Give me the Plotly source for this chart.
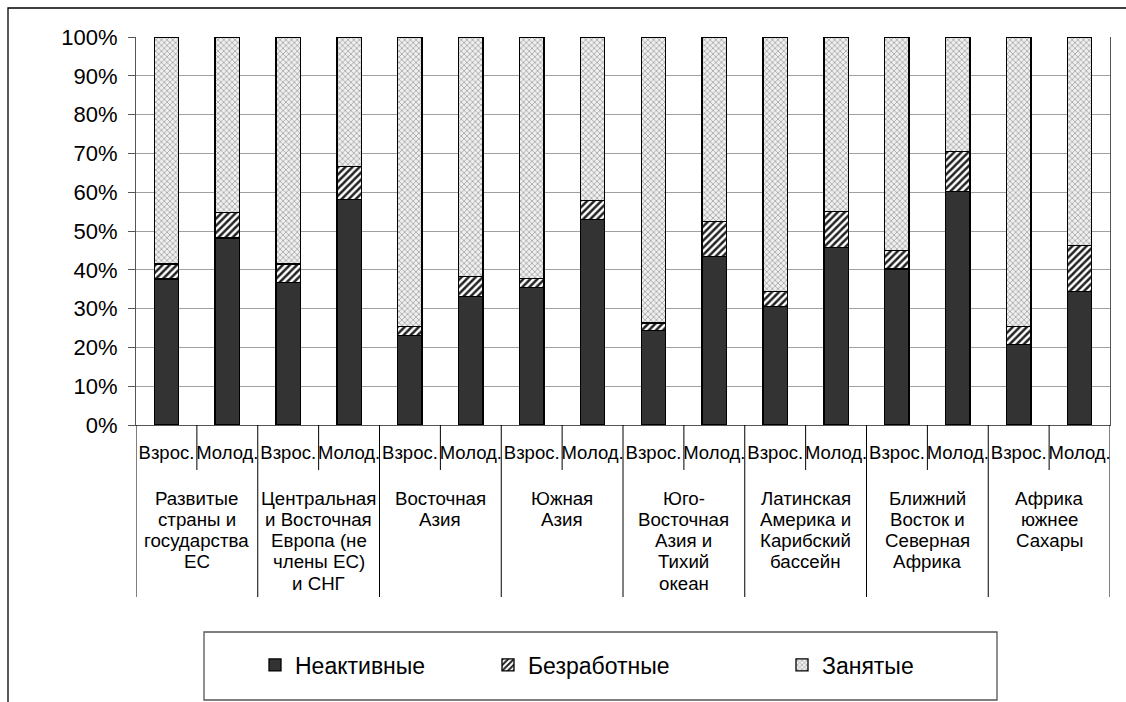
import plotly.graph_objects as go

regions = [
    "Развитые\nстраны и\nгосударства\nЕС",
    "Центральная\nи Восточная\nЕвропа (не\nчлены ЕС)\nи СНГ",
    "Восточная\nАзия",
    "Южная\nАзия",
    "Юго-\nВосточная\nАзия и\nТихий\nокеан",
    "Латинская\nАмерика и\nКарибский\nбассейн",
    "Ближний\nВосток и\nСеверная\nАфрика",
    "Африка\nюжнее\nСахары",
]
ages = ["Взрос.", "Молод."]

inactive = [37.6, 48.2, 36.8, 58.2, 23.0, 33.1, 35.4, 52.9,
            24.3, 43.5, 30.6, 45.8, 40.2, 60.2, 20.7, 34.4]
unemployed = [3.9, 6.6, 4.7, 8.5, 2.4, 5.2, 2.4, 4.9,
              2.0, 9.0, 3.8, 9.2, 4.7, 10.3, 4.7, 11.8]
employed = [58.5, 45.2, 58.5, 33.3, 74.6, 61.7, 62.2, 42.2,
            73.7, 47.5, 65.6, 45.0, 55.1, 29.5, 74.6, 53.8]

series_names = ["Неактивные", "Безработные", "Занятые"]
y_tickvals = [0, 10, 20, 30, 40, 50, 60, 70, 80, 90, 100]
y_ticktext = ["0%", "10%", "20%", "30%", "40%", "50%", "60%", "70%", "80%", "90%", "100%"]

n = len(regions) * len(ages)
xs = list(range(n))
ticktext = [ages[i % 2] for i in xs]

FONT = "Liberation Sans, Arial, sans-serif"
line = dict(color="#000000", width=1.3)

fig = go.Figure()
fig.add_trace(go.Bar(x=xs, y=inactive, name=series_names[0], legend="legend",
                     marker=dict(color="#333333", line=line)))
fig.add_trace(go.Bar(x=xs, y=unemployed, name=series_names[1], legend="legend2",
                     marker=dict(color="#ffffff", line=line,
                                 pattern=dict(shape="/", fgcolor="#222222", bgcolor="#ffffff",
                                              size=5, solidity=0.5, fillmode="replace"))))
fig.add_trace(go.Bar(x=xs, y=employed, name=series_names[2], legend="legend3",
                     marker=dict(color="#e6e6e6", line=line,
                                 pattern=dict(shape="x", fgcolor="#a0a0a0", bgcolor="#efefef",
                                              size=4, solidity=0.35, fillmode="replace"))))

W, H = 1126, 702
L, R, T, B = 136, 1110, 37, 425
pw, ph = R - L, B - T

def px_x(p):
    return (p - L) / pw

def px_y(p):
    return (B - p) / ph

shapes = []
# outer frame
shapes.append(dict(type="rect", xref="paper", yref="paper",
                   x0=px_x(8), x1=px_x(1140), y0=px_y(720), y1=px_y(8),
                   line=dict(color="#000000", width=1.3), fillcolor="rgba(0,0,0,0)", layer="below"))
# category dividers
for i in range(len(regions) + 1):
    shapes.append(dict(type="line", xref="x", yref="paper",
                       x0=2 * i - 0.5, x1=2 * i - 0.5, y0=0, y1=px_y(597),
                       line=dict(color="#000000", width=1)))
for i in range(len(regions)):
    shapes.append(dict(type="line", xref="x", yref="paper",
                       x0=2 * i + 0.5, x1=2 * i + 0.5, y0=0, y1=px_y(470),
                       line=dict(color="#000000", width=1)))
# legend box
shapes.append(dict(type="rect", xref="paper", yref="paper",
                   x0=px_x(204), x1=px_x(997), y0=px_y(700), y1=px_y(632),
                   line=dict(color="#555555", width=1.3), fillcolor="rgba(0,0,0,0)"))

annotations = []
for i, r in enumerate(regions):
    for k, ln in enumerate(r.split("\n")):
        annotations.append(dict(x=2 * i + 0.5, y=px_y(498 + 21.25 * k), xref="x", yref="paper",
                                text=ln, showarrow=False, xanchor="center", yanchor="middle",
                                align="center", font=dict(family=FONT, size=18.7, color="#000000")))

leg_common = dict(orientation="h", yanchor="middle", xanchor="left",
                  font=dict(family=FONT, size=23, color="#000000"),
                  bgcolor="rgba(0,0,0,0)", borderwidth=0, itemclick=False)

fig.update_layout(
    width=W, height=H,
    margin=dict(l=L, r=W - R, t=T, b=H - B),
    paper_bgcolor="#ffffff", plot_bgcolor="#ffffff",
    barmode="stack", bargap=0.6,
    font=dict(family=FONT, color="#000000"),
    shapes=shapes, annotations=annotations,
    showlegend=True,
    legend=dict(x=px_x(255), y=px_y(665), **leg_common),
    legend2=dict(x=px_x(488), y=px_y(665), **leg_common),
    legend3=dict(x=px_x(782), y=px_y(665), **leg_common),
)
fig.update_xaxes(range=[-0.5, n - 0.5], tickmode="array", tickvals=xs, ticktext=ticktext,
                 tickfont=dict(family=FONT, size=18.5, color="#000000"), ticks="",
                 tickangle=0,
                 showgrid=False, showline=True, linecolor="#555555", linewidth=1,
                 ticklabelstandoff=11, zeroline=False)
fig.update_yaxes(range=[0, 100], tickmode="array", tickvals=y_tickvals, ticktext=y_ticktext,
                 tickfont=dict(family=FONT, size=22, color="#000000"),
                 ticks="outside", ticklen=7, tickcolor="#555555",
                 showgrid=True, gridcolor="#a0a0a0", gridwidth=1,
                 showline=True, linecolor="#555555", linewidth=1, mirror=True,
                 zeroline=False, ticklabelstandoff=6)

fig.write_html("out.html", config={"displayModeBar": False},
               post_script="document.body.style.margin='0px';")
